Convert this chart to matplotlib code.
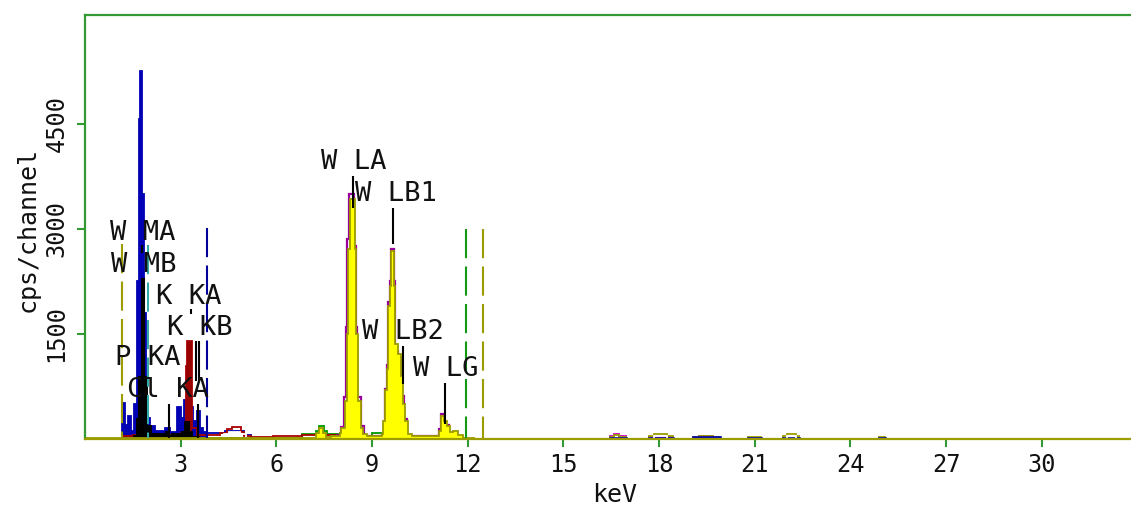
import matplotlib
matplotlib.use("Agg")
import matplotlib.pyplot as plt

plt.rcParams['font.family'] = ['DejaVu Sans Mono']

# --- spectra (keV bin edges, cps/channel) ---
main_edges = [0.0, 7.0, 7.25, 7.35, 7.45, 7.55, 7.7, 8.0, 8.04, 8.14, 8.20, 8.24, 8.30, 8.46,
              8.51, 8.55, 8.67, 8.71, 8.85, 9.30, 9.34, 9.42, 9.47, 9.50, 9.55, 9.61, 9.68,
              9.73, 9.81, 9.90, 9.97, 10.05, 10.13, 10.25, 11.0, 11.10, 11.15, 11.25, 11.34,
              11.45, 11.55, 11.70, 11.85, 12.2, 32.8]
main_vals = [10, 20, 80, 150, 90, 30, 40, 90, 160, 540, 1500, 2710, 3430, 2710, 1500, 540,
             160, 70, 40, 70, 257, 700, 1000, 1900, 2186, 2686, 2186, 1357, 1210, 900, 500,
             257, 71, 40, 40, 120, 329, 260, 186, 100, 110, 50, 15, 0]

purple_edges = [7.9, 8.04, 8.12, 8.18, 8.22, 8.28, 8.44, 8.50, 8.54, 8.66, 8.75, 9.3, 9.42,
                9.47, 9.50, 9.55, 9.61, 9.68, 9.73, 9.83, 9.93, 9.99, 10.1, 11.1, 11.15,
                11.25, 11.4, 11.6]
purple_vals = [60, 170, 600, 1600, 2850, 3500, 2750, 1600, 600, 180, 40, 60, 720, 1050, 1950,
               2250, 2720, 2250, 1250, 1150, 620, 280, 40, 140, 360, 200, 90]

blue_edges = [0, 1.15, 1.25, 1.35, 1.45, 1.55, 1.64, 1.69, 1.74, 1.78, 1.84, 1.90, 1.95, 2.05,
              2.2, 2.5, 2.65, 2.9, 3.0, 3.1, 3.2, 3.3, 3.4, 3.5, 3.6, 3.7, 3.8, 4.4, 5.0, 5.2,
              8.2, 8.4, 9.3, 9.7, 12.0]
blue_vals = [0, 520, 200, 330, 120, 500, 2257, 4571, 5257, 3500, 1800, 700, 300, 180, 120,
             150, 100, 450, 300, 550, 700, 450, 250, 400, 150, 100, 86, 115, 60, 5, 25, 5,
             15, 0]
blue_fill_n = 26  # bins below 3.8 keV are drawn filled

black_edges = [1.5, 1.60, 1.66, 1.76, 1.87, 1.97, 2.1, 2.5, 2.6, 2.7, 3.0, 3.1, 3.3, 3.4, 3.6]
black_vals = [50, 300, 900, 2300, 900, 200, 80, 120, 60, 80, 120, 250, 120, 40]

red_edges = [0, 1.2, 1.5, 1.9, 2.2, 2.6, 3.0, 3.17, 3.21, 3.35, 3.5, 3.8, 4.22, 4.45, 4.6,
             4.9, 5.0, 5.2, 5.9, 6.8, 7.0, 8.0, 8.2, 8.5, 9.0, 9.5, 12.0]
red_vals = [0, 40, 60, 30, 50, 60, 80, 1043, 1400, 150, 60, 50, 86, 140, 165, 95, 43, 30, 43,
            60, 50, 70, 40, 35, 30, 0]
red_peak_edges = [3.17, 3.21, 3.35]
red_peak_vals = [1043, 1400]

white_edges = [4.35, 4.5, 4.85, 5.05]
white_vals = [75, 105, 65]

green_edges = [0, 1.2, 1.6, 2.0, 3.1, 3.2, 3.3, 3.45, 3.55, 3.8, 6.8, 7.25, 7.35, 7.5, 7.6,
               8.0, 8.15, 8.3, 9.0, 9.3, 9.45, 10.5, 11.0, 12.0]
green_vals = [0, 20, 40, 15, 60, 90, 70, 50, 20, 10, 70, 120, 186, 120, 70, 80, 40, 20, 86,
              40, 15, 14, 0]

# high energy bumps
hi_edges = [16.0, 16.45, 16.6, 16.75, 16.95, 17.7, 17.85, 18.0, 18.25, 18.45, 19.05, 19.25,
            19.7, 19.9, 20.8, 21.2, 21.9, 22.0, 22.3, 22.4, 24.9, 25.1, 26.0]
hi_olive = [0, 35, 60, 35, 0, 40, 70, 70, 40, 0, 30, 40, 30, 0, 25, 0, 40, 70, 40, 0, 25, 0]
hi_purple = [0, 45, 70, 45, 0, 30, 30, 30, 30, 0, 35, 45, 35, 0, 0, 0, 0, 0, 0, 0, 0, 0]
hi_blue = [0, 20, 20, 20, 0, 20, 20, 20, 20, 0, 25, 25, 25, 0, 15, 0, 20, 20, 20, 0, 20, 0]
hi_white = [0, 0, 0, 0, 0, 0, 45, 45, 0, 0, 0, 0, 0, 0, 0, 0, 0, 45, 0, 0, 0, 0]

# --- element markers ---
lbl_text = ["W MA", "W MB", "K KA", "K KB", "P KA", "Cl KA", "W LA", "W LB1", "W LB2", "W LG"]
lbl_x = [0.77, 0.83, 2.24, 2.56, 0.93, 1.33, 7.39, 8.46, 8.68, 10.30]
lbl_y = [2943, 2486, 2029, 1586, 1157, 700, 3957, 3500, 1529, 1000]

mk_x = [1.775, 1.835, 3.313, 3.49, 3.59, 2.62, 3.55, 8.396, 9.67, 9.96, 11.28]
mk_top = [2771, 2300, 1857, 1400, 1400, 500, 500, 3757, 3300, 1329, 800]
mk_bot = [2657, 1329, 1786, 830, 830, 0, 0, 3300, 2786, 786, 214]

dash_x = [1.17, 1.97, 3.81, 11.94, 12.47]
dash_top = [2786, 2770, 3014, 3000, 3000]
dash_col = ['#9c9c00', '#33aaaa', '#000099', '#119911', '#9c9c00']

xticks = [3, 6, 9, 12, 15, 18, 21, 24, 27, 30]
yticks = [1500, 3000, 4500]

W, H = 1131, 513
fig = plt.figure(figsize=(W / 100, H / 100), dpi=100)
ax = fig.add_axes([85 / W, 1 - 439 / H, 1 - 85 / W, 424 / H])

frame = '#339933'
olive = '#9c9c00'
lw = 1.3

ax.stairs(green_vals, green_edges, color='#009900', lw=lw)
ax.stairs(blue_vals[:blue_fill_n], blue_edges[:blue_fill_n + 1], color='#0000b4', fill=True)
ax.stairs(blue_vals, blue_edges, color='#0000b4', lw=lw)
ax.stairs(red_vals, red_edges, color='#aa0000', lw=lw)
ax.stairs(red_peak_vals, red_peak_edges, color='#990000', fill=True)
ax.stairs(white_vals, white_edges, color='white', lw=lw)
ax.stairs(black_vals, black_edges, color='black', lw=lw, fill=True)
ax.stairs(purple_vals, purple_edges, color='#990099', lw=lw + 0.3)
ax.stairs(main_vals, main_edges, color='#ffff00', fill=True)
ax.stairs(main_vals, main_edges, color=olive, lw=lw)

ax.stairs(hi_purple, hi_edges, color='#cc00cc', lw=lw)
ax.stairs(hi_olive, hi_edges, color=olive, lw=lw)
ax.stairs(hi_blue, hi_edges, color='#0000b4', lw=lw + 0.6)
ax.stairs(hi_white, hi_edges, color='white', lw=lw)

for x, t, c in zip(dash_x, dash_top, dash_col):
    ax.plot([x, x], [t, 0], color=c, lw=1.5, dashes=(14, 4))

ax.vlines(mk_x, mk_bot, mk_top, color='black', lw=1.5)

for t, x, y in zip(lbl_text, lbl_x, lbl_y):
    ax.text(x, y, t, fontsize=19.5, ha='left', va='center', color='#111111')

ax.set_xlim(0, 32.8)
ax.set_ylim(0, 6057)
ax.set_xticks(xticks)
ax.set_yticks(yticks)
ax.tick_params(axis='x', direction='out', length=6, width=1.5, color=frame,
               labelsize=17, pad=4, labelcolor='#111111')
ax.tick_params(axis='y', direction='out', length=6, width=1.5, color=frame,
               labelsize=17, pad=6, labelcolor='#111111', labelrotation=90)
for lab in ax.get_yticklabels():
    lab.set_va('center')

for s in ['left', 'top']:
    ax.spines[s].set_color(frame)
    ax.spines[s].set_linewidth(1.6)
ax.spines['bottom'].set_color(olive)
ax.spines['bottom'].set_linewidth(1.6)
ax.spines['right'].set_visible(False)

fig.text(28 / W, 1 - 229 / H, "cps/channel", rotation=90, fontsize=18,
         ha='center', va='center', color='#111111')
fig.text(615 / W, 1 - 495 / H, "keV", fontsize=18, ha='center', va='center',
         color='#111111')

fig.savefig("out.png", dpi=100)
